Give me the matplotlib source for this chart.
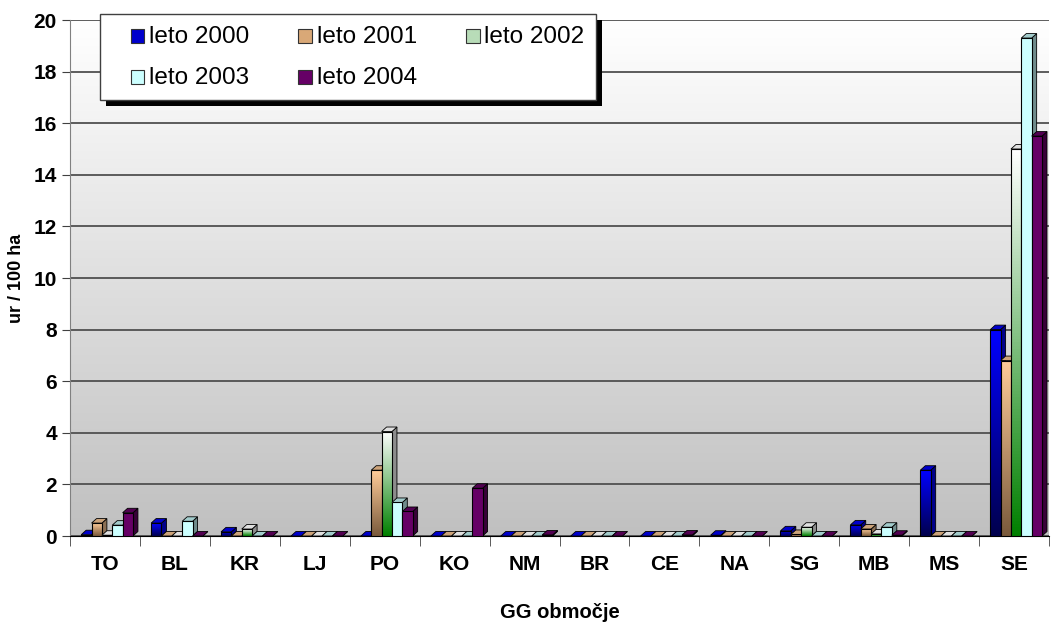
import numpy as np
import matplotlib.pyplot as plt
from matplotlib.patches import Polygon, Rectangle
from matplotlib.colors import LinearSegmentedColormap, to_rgb
from matplotlib.legend_handler import HandlerPatch

plt.rcParams['font.family'] = ['Liberation Sans', 'DejaVu Sans']

categories = ['TO', 'BL', 'KR', 'LJ', 'PO', 'KO', 'NM', 'BR', 'CE', 'NA', 'SG', 'MB', 'MS', 'SE']
labels = ['leto 2000', 'leto 2001', 'leto 2002', 'leto 2003', 'leto 2004']

v2000 = [0.05, 0.5, 0.16, 0, 0, 0, 0, 0, 0, 0.03, 0.2, 0.43, 2.55, 8.0]
v2001 = [0.5, 0, 0, 0, 2.55, 0, 0, 0, 0, 0, 0.06, 0.27, 0, 6.8]
v2002 = [0.03, 0, 0.27, 0, 4.05, 0, 0, 0, 0, 0, 0.34, 0.08, 0, 15.0]
v2003 = [0.42, 0.57, 0, 0, 1.3, 0, 0, 0, 0, 0, 0, 0.34, 0, 19.3]
v2004 = [0.9, 0, 0, 0, 0.95, 1.85, 0.04, 0, 0.04, 0, 0, 0.03, 0, 15.5]

# (top colour, bottom colour) of each series
colors = [('#0000ff', '#00004d'),
          ('#ffcc99', '#7a5a3c'),
          ('#ffffff', '#008000'),
          ('#ccffff', '#ccffff'),
          ('#660066', '#660066')]
legend_colors = ['#0000cc', '#d9a877', '#b8dcb8', '#ccffff', '#660066']


def shade(c, f):
    r, g, b = to_rgb(c)
    if f < 1:
        return (r * f, g * f, b * f)
    return (r + (1 - r) * (f - 1), g + (1 - g) * (f - 1), b + (1 - b) * (f - 1))


def square_right(legend, orig_handle, xdescent, ydescent, width, height, fontsize):
    s = 0.57 * fontsize
    return Rectangle((-xdescent + width - s, -ydescent + (height - s) / 2 - 1), s, s)


fig = plt.figure(figsize=(10.51, 6.24), dpi=100)
ax = fig.add_axes([70 / 1051, 88 / 624, 979 / 1051, 516 / 624])

x = np.arange(len(categories))
xlim = (-0.5, len(categories) - 0.5)
ylim = (0, 20)

# plot area gradient
bg = LinearSegmentedColormap.from_list('bg', ['#c0c0c0', '#ffffff'])
ax.imshow(np.linspace(1, 0, 256).reshape(-1, 1), cmap=bg, aspect='auto',
          extent=[xlim[0], xlim[1], ylim[0], ylim[1]], zorder=0)

width = 0.148
dx = 5 / (979 / 14)      # bar depth in data units
dy = 4.5 / (516 / 20)

series = [v2000, v2001, v2002, v2003, v2004]
for i, vals in enumerate(series):
    top, bot = colors[i]
    cmap = LinearSegmentedColormap.from_list('s%d' % i, [bot, top])
    pos = x + (i - 2) * width + 0.03
    z = 3 + i * 0.1
    bars = ax.bar(pos, vals, width, facecolor='none', edgecolor='black',
                  linewidth=0.8, zorder=z + 0.02)
    for rect, h in zip(bars, vals):
        x0 = rect.get_x()
        x1 = x0 + width
        side = Polygon([(x1, 0), (x1 + dx, dy), (x1 + dx, h + dy), (x1, h)],
                       facecolor=shade(bot if top == bot else top, 0.55),
                       edgecolor='black', linewidth=0.6, zorder=z)
        cap = Polygon([(x0, h), (x1, h), (x1 + dx, h + dy), (x0 + dx, h + dy)],
                      facecolor=shade(top, 0.8) if i != 2 else '#e0e0e0',
                      edgecolor='black', linewidth=0.6, zorder=z)
        ax.add_patch(side)
        ax.add_patch(cap)
        if h > 0:
            im = ax.imshow(np.linspace(1, 0, 128).reshape(-1, 1), cmap=cmap,
                           aspect='auto', extent=[x0, x1, 0, h], zorder=z + 0.01)
            im.set_clip_path(rect)

ax.set_xlim(xlim)
ax.set_ylim(ylim)

ax.set_yticks(range(0, 21, 2))
ax.yaxis.grid(True, color='#505050', linewidth=1.3)
ax.set_axisbelow(True)
ax.set_xticks(x)
ax.set_xticklabels(categories)
ax.set_xticks(np.arange(-0.5, len(categories)), minor=True)
ax.tick_params(axis='x', which='major', length=0, pad=14, labelsize=15)
ax.tick_params(axis='x', which='minor', length=7, direction='out', color='#404040')
ax.tick_params(axis='y', length=6, color='#404040', labelsize=15)
for t in ax.get_xticklabels() + ax.get_yticklabels():
    t.set_fontweight('bold')

for s in ['top', 'right']:
    ax.spines[s].set_visible(False)
ax.spines['left'].set_color('#808080')
ax.spines['bottom'].set_color('black')

fig.text(0.5 * (70 + 1049) / 1051, 11 / 624, 'GG območje', fontsize=14.5,
         fontweight='bold', ha='center', va='center')
ax.set_ylabel('ur / 100 ha', fontsize=13, fontweight='bold', labelpad=6)

handles = [Rectangle((0, 0), 1, 1, facecolor=c, edgecolor='#333333', linewidth=0.8)
           for c in legend_colors]
order = [0, 3, 1, 4, 2]
leg = ax.legend([handles[k] for k in order], [labels[k] for k in order],
                ncol=3, loc='upper left', bbox_to_anchor=(30 / 979, 522 / 516),
                borderaxespad=0, fontsize=17.5, frameon=True, fancybox=False,
                framealpha=1, handler_map={Rectangle: HandlerPatch(patch_func=square_right)},
                handlelength=1.37, handleheight=0.8, handletextpad=0.2,
                columnspacing=1.2, labelspacing=0.75, borderpad=0.46)
leg.get_frame().set_edgecolor('#404040')
leg.get_frame().set_linewidth(1.0)
leg.set_zorder(10)

# black drop shadow behind the legend box
fig.canvas.draw()
bb = leg.get_window_extent()
ax.add_patch(Rectangle((bb.x0 + 6, bb.y0 - 6), bb.width, bb.height, transform=None,
                       facecolor='black', edgecolor='none', zorder=9.5, clip_on=False))

fig.savefig('out.png', dpi=100)
